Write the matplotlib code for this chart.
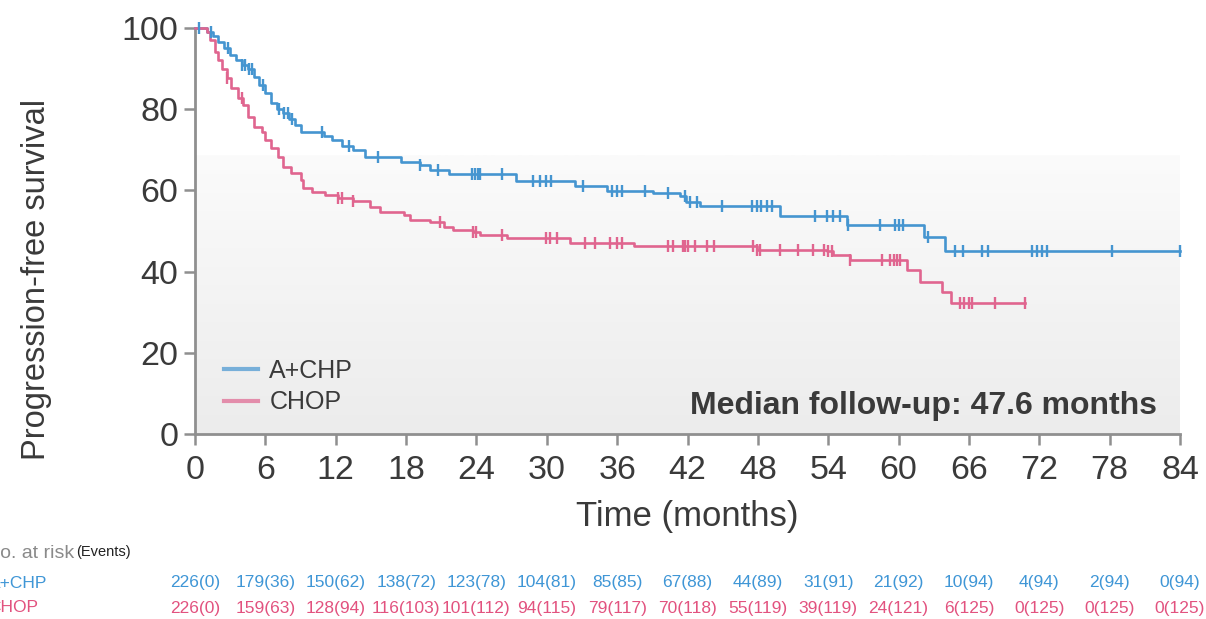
import numpy as np
import matplotlib
matplotlib.use("Agg")
import matplotlib.pyplot as plt
from matplotlib.colors import LinearSegmentedColormap
from matplotlib.transforms import blended_transform_factory

plt.rcParams['font.family'] = ['Liberation Sans', 'DejaVu Sans']

# Kaplan-Meier step data (time in months, survival in %)
aplus_t = [0, 1.0, 1.5, 2.0, 2.5, 3.0, 3.5, 4.0, 4.5, 5.0, 5.5, 6.0, 6.5, 7.0,
           7.5, 8.0, 8.5, 9.0, 11.0, 11.7, 12.5, 13.5, 14.5, 17.6, 19.2, 20.0,
           21.7, 27.4, 32.4, 35.1, 39.1, 41.4, 41.9, 43.1, 49.9, 55.6, 62.2,
           64.0]
aplus_s = [100, 99.0, 98.0, 96.5, 95.0, 93.3, 92.1, 91.0, 90.0, 88.0, 86.0,
           84.0, 81.5, 80.0, 79.0, 77.5, 76.1, 74.5, 73.5, 72.3, 71.0, 70.0,
           68.3, 67.1, 66.3, 65.0, 64.0, 62.3, 61.0, 59.8, 59.3, 58.5, 57.2,
           56.2, 53.6, 51.6, 48.6, 45.0]
aplus_end = 84.0
aplus_cens = [0.3, 1.4, 2.8, 4.0, 4.3, 4.6, 4.9, 5.8, 7.2, 7.6, 7.9, 8.3, 10.8,
              13.1, 15.6, 19.2, 20.7, 23.6, 23.9, 24.1, 24.3, 26.2, 28.8,
              29.4, 29.9, 30.4, 33.1, 35.6, 36.0, 36.4, 38.4, 40.3, 41.8, 42.2,
              42.8, 44.9, 47.5, 47.9, 48.3, 48.8, 49.2, 52.9, 53.9, 54.4, 55.0,
              55.7, 58.4, 59.7, 60.0, 60.4, 62.5, 64.8, 65.5, 67.1, 67.6, 71.4,
              71.8, 72.2, 72.7, 78.2, 84.0]

chop_t = [0, 1.0, 1.3, 1.7, 2.0, 2.3, 2.7, 3.1, 3.7, 4.1, 4.5, 5.0, 5.7, 6.0,
          6.5, 7.1, 7.5, 8.2, 9.0, 9.2, 10.0, 11.1, 12.2, 13.5, 14.9, 15.8,
          17.8, 18.3, 20.0, 21.2, 22.0, 23.7, 24.3, 26.6, 32.0, 37.4, 47.9,
          53.9, 54.4, 55.9, 60.7, 61.8, 63.7, 64.5]
chop_s = [100, 99.0, 97.0, 94.0, 92.0, 90.0, 87.6, 85.1, 82.7, 81.0, 78.2,
          75.7, 74.5, 72.4, 70.4, 68.3, 65.8, 64.2, 62.6, 60.5, 59.7, 58.9,
          58.1, 57.3, 55.8, 54.8, 53.9, 52.7, 52.3, 51.1, 50.2, 49.8, 49.0,
          48.2, 47.1, 46.2, 45.4, 45.0, 44.1, 42.9, 40.4, 37.5, 35.0, 32.2]
chop_end = 70.8
chop_cens = [2.7, 4.0, 12.2, 12.5, 13.5, 20.9, 23.7, 24.0, 26.2, 29.9, 30.3,
             30.9, 33.3, 34.1, 35.4, 36.0, 36.4, 40.3, 40.8, 41.6, 41.8, 42.0,
             42.6, 43.7, 44.3, 47.6, 47.9, 48.2, 49.9, 51.4, 52.7, 53.6, 54.0,
             54.3, 55.9, 58.6, 59.3, 59.6, 59.9, 60.1, 65.2, 65.6, 66.0, 66.3,
             68.2, 70.8]

# Numbers at risk (events) table
risk_times = [0, 6, 12, 18, 24, 30, 36, 42, 48, 54, 60, 66, 72, 78, 84]
aplus_risk = [226, 179, 150, 138, 123, 104, 85, 67, 44, 31, 21, 10, 4, 2, 0]
aplus_events = [0, 36, 62, 72, 78, 81, 85, 88, 89, 91, 92, 94, 94, 94, 94]
chop_risk = [226, 159, 128, 116, 101, 94, 79, 70, 55, 39, 24, 6, 0, 0, 0]
chop_events = [0, 63, 94, 103, 112, 115, 117, 118, 119, 119, 121, 125, 125,
               125, 125]

BLUE = '#4595d0'
PINK = '#e0658f'
BLUE_TXT = '#3f96d6'
PINK_TXT = '#e2527f'
GREY = '#8f8f8f'
TXT = '#3a3a3a'

fig = plt.figure(figsize=(12.06, 6.19), dpi=100)
ax = fig.add_axes([195 / 1206, 185 / 619, 985 / 1206, 406 / 619])

# soft grey gradient band in the lower part of the plot area
grad = np.linspace(0, 1, 256).reshape(-1, 1)
cmap = LinearSegmentedColormap.from_list('band', ['#ececec', '#fbfbfb'])
ax.imshow(grad, extent=(0, 84, 0, 68.7), origin='lower', aspect='auto',
          cmap=cmap, zorder=0)


def surv_at(times, surv, t):
    idx = np.searchsorted(times, t, side='right') - 1
    return np.asarray(surv)[idx]


def draw_km(times, surv, end, cens, color, label):
    tt = list(times) + [end]
    ss = list(surv) + [surv[-1]]
    ax.step(tt, ss, where='post', color=color, lw=1.9, zorder=3,
            clip_on=False)
    cy = surv_at(times, surv, cens)
    ax.plot(cens, cy, linestyle='none', marker='|', ms=8, mew=1.7,
            color=color, zorder=4, clip_on=False)
    ax.plot([], [], color=color, lw=3, alpha=0.7, label=label)


draw_km(aplus_t, aplus_s, aplus_end, aplus_cens, BLUE, 'A+CHP')
draw_km(chop_t, chop_s, chop_end, chop_cens, PINK, 'CHOP')

ax.set_xlim(0, 84)
ax.set_ylim(0, 100)
ax.set_xticks(risk_times)
ax.set_yticks([0, 20, 40, 60, 80, 100])
for side in ('top', 'right'):
    ax.spines[side].set_visible(False)
for side in ('left', 'bottom'):
    ax.spines[side].set_color(GREY)
    ax.spines[side].set_linewidth(2)
ax.set_facecolor('white')
ax.tick_params(direction='out', length=8, width=1.8, color=GREY,
               labelsize=24.5, labelcolor=TXT)
ax.tick_params(axis='x', pad=7)
ax.tick_params(axis='y', pad=4)

ax.set_xlabel('Time (months)', fontsize=25, color=TXT, labelpad=10)
fig.text(37 / 1206, 1 - 279 / 619, 'Progression-free survival', rotation=90,
         ha='center', va='center', fontsize=23.5, color=TXT)

leg = ax.legend(loc='lower left', bbox_to_anchor=(0.012, 0.005),
                frameon=False, fontsize=18, handlelength=1.35,
                handletextpad=0.45, labelspacing=0.3, borderpad=0.2)
for t in leg.get_texts():
    t.set_color(TXT)

ax.text(82.0, 6.8, 'Median follow-up: 47.6 months', ha='right', va='center',
        fontsize=23, fontweight='bold', color=TXT)

# at-risk table under the axes
trans = blended_transform_factory(ax.transData, fig.transFigure)
fig.text(-14 / 1206, 1 - 553 / 619, 'No. at risk', ha='left', va='center',
         fontsize=14, color='#8a8a8a')
fig.text(76 / 1206, 1 - 552 / 619, '(Events)', ha='left', va='center',
         fontsize=10.5, color='#222222')
fig.text(-11 / 1206, 1 - 583 / 619, 'A+CHP', ha='left', va='center',
         fontsize=12.5, color=BLUE_TXT)
fig.text(-12 / 1206, 1 - 608 / 619, 'CHOP', ha='left', va='center',
         fontsize=12.5, color=PINK_TXT)
for x, n, e in zip(risk_times, aplus_risk, aplus_events):
    fig.text(x, 1 - 583 / 619, f'{n}({e})', transform=trans, ha='center',
             va='center', fontsize=12.5, color=BLUE_TXT)
for x, n, e in zip(risk_times, chop_risk, chop_events):
    fig.text(x, 1 - 608 / 619, f'{n}({e})', transform=trans, ha='center',
             va='center', fontsize=12.5, color=PINK_TXT)

fig.savefig('out.png', dpi=100, facecolor='white')
